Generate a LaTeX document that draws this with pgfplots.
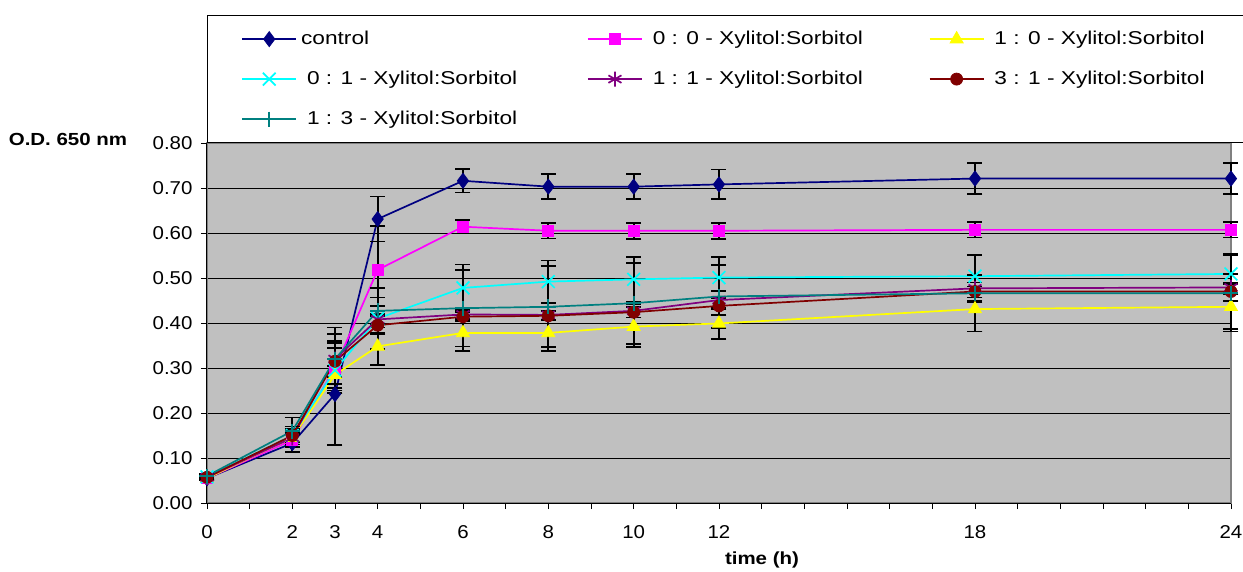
\documentclass[border=0pt]{standalone}
\usepackage{fontspec}
\setmainfont{Liberation Sans}[FakeStretch=1.1]
\newfontfamily\legfont{Liberation Sans}[FakeStretch=1.22]
\newfontfamily\labfont{Liberation Sans}[FakeStretch=1.17]
\usepackage{pgfplots}
\pgfplotsset{compat=1.18}
\definecolor{plotbg}{RGB}{192,192,192}
\definecolor{framec}{RGB}{128,128,128}
\definecolor{cnavy}{RGB}{0,0,128}
\definecolor{cmag}{RGB}{255,0,255}
\definecolor{cyel}{RGB}{255,255,0}
\definecolor{ccyan}{RGB}{0,255,255}
\definecolor{cpurp}{RGB}{128,0,128}
\definecolor{cmaroon}{RGB}{128,0,0}
\definecolor{cteal}{RGB}{0,128,128}
\newcommand{\tickfont}{\fontsize{18.6bp}{22bp}\selectfont}
\begin{document}
\begin{tikzpicture}
\useasboundingbox (-207bp,-69bp) rectangle (1036bp,503bp);
\begin{axis}[
  scale only axis, width=1024bp, height=360bp,
  xmin=0, xmax=24, ymin=0, ymax=0.8,
  clip=false,
  axis background/.style={fill=plotbg},
  axis line style={draw=framec, line width=1.2bp},
  tick pos=left, tick align=outside, major tick length=6bp,
  tick style={black, line width=0.8bp},
  xtick={0,...,24},
  xticklabels={0,,2,3,4,,6,,8,,10,,12,,,,,,18,,,,,,24},
  ytick={0,0.1,...,0.8},
  /pgf/number format/fixed, /pgf/number format/fixed zerofill,
  /pgf/number format/precision=2, /pgf/number format/assume math mode=true,
  xticklabel style={font=\tickfont, yshift=-13bp},
  yticklabel style={font=\tickfont, xshift=-5bp},
  ymajorgrids, major grid style={black, line width=0.8bp},
  every axis plot/.append style={line width=1.7bp},
  error bars/error bar style={black, line width=1.7bp, solid},
  error bars/error mark options={rotate=90, mark size=7.5bp, black, line width=1.7bp, solid},
  legend columns=3,
  legend cell align=left,
  legend image code/.code={\draw[mark repeat=2, mark phase=2] plot coordinates {(0bp,0bp) (27bp,0bp) (54bp,0bp)};},
  legend style={at={(axis description cs:0,1)}, anchor=south west,
    draw=black, line width=0.8bp, fill=white,
    inner xsep=34bp, inner ysep=14.5bp, row sep=22bp,
    font=\legfont\fontsize{18.6bp}{22bp}\selectfont,
    nodes={inner sep=0pt, text height=14bp, text depth=4bp},
    /tikz/every odd column/.append style={column sep=10bp}},
]
% control
\addplot[color=cnavy, mark=diamond*, mark size=7.5bp, mark options={fill=cnavy, draw=cnavy, line width=0.8bp},
  error bars/.cd, y dir=both, y explicit] coordinates {
 (0,0.055) +- (0,0.005)
 (2,0.133) +- (0,0.02)
 (3,0.242) +- (0,0.113)
 (4,0.631) +- (0,0.05)
 (6,0.716) +- (0,0.026)
 (8,0.703) +- (0,0.028)
 (10,0.703) +- (0,0.028)
 (12,0.708) +- (0,0.033)
 (18,0.721) +- (0,0.034)
 (24,0.721) +- (0,0.034)
};
\addlegendentry{\makebox[280bp][l]{\hspace*{-6bp}control}}
% 0:0
\addplot[color=cmag, mark=square*, mark size=5.5bp, mark options={fill=cmag, draw=cmag, line width=0.8bp},
  error bars/.cd, y dir=both, y explicit] coordinates {
 (0,0.055) +- (0,0.005)
 (2,0.140) +- (0,0.015)
 (3,0.300) +- (0,0.055)
 (4,0.518) +- (0,0.098)
 (6,0.614) +- (0,0.015)
 (8,0.605) +- (0,0.017)
 (10,0.605) +- (0,0.018)
 (12,0.605) +- (0,0.018)
 (18,0.607) +- (0,0.017)
 (24,0.607) +- (0,0.017)
};
\addlegendentry{\makebox[276bp][l]{0 : 0 - Xylitol:Sorbitol}}
% 1:0
\addplot[color=cyel, mark=triangle*, mark size=7.5bp, mark options={fill=cyel, draw=cyel, line width=0.8bp},
  error bars/.cd, y dir=both, y explicit] coordinates {
 (0,0.055) +- (0,0.004)
 (2,0.145) +- (0,0.01)
 (3,0.285) +- (0,0.02)
 (4,0.348) +- (0,0.042)
 (6,0.378) +- (0,0.04)
 (8,0.378) +- (0,0.04)
 (10,0.392) +- (0,0.045)
 (12,0.399) +- (0,0.035)
 (18,0.431) +- (0,0.05)
 (24,0.436) +- (0,0.05)
};
\addlegendentry{\makebox[217bp][l]{1 : 0 - Xylitol:Sorbitol}}
% 0:1
\addplot[color=ccyan, mark=x, mark size=9bp, mark options={draw=ccyan, line width=1.7bp},
  error bars/.cd, y dir=both, y explicit] coordinates {
 (0,0.058) +- (0,0.004)
 (2,0.150) +- (0,0.02)
 (3,0.295) +- (0,0.05)
 (4,0.410) +- (0,0.068)
 (6,0.478) +- (0,0.052)
 (8,0.492) +- (0,0.047)
 (10,0.497) +- (0,0.05)
 (12,0.501) +- (0,0.046)
 (18,0.504) +- (0,0.047)
 (24,0.509) +- (0,0.045)
};
\addlegendentry{\makebox[280bp][l]{0 : 1 - Xylitol:Sorbitol}}
% 1:1
\addplot[color=cpurp, mark=asterisk, mark size=7.5bp, mark options={draw=cpurp, line width=1.7bp},
  error bars/.cd, y dir=both, y explicit] coordinates {
 (0,0.057) +- (0,0.004)
 (2,0.145) +- (0,0.02)
 (3,0.320) +- (0,0.04)
 (4,0.408) +- (0,0.03)
 (6,0.419) +- (0,0.01)
 (8,0.418) +- (0,0.01)
 (10,0.427) +- (0,0.015)
 (12,0.451) +- (0,0.02)
 (18,0.477) +- (0,0.03)
 (24,0.479) +- (0,0.03)
};
\addlegendentry{\makebox[276bp][l]{1 : 1 - Xylitol:Sorbitol}}
% 3:1
\addplot[color=cmaroon, mark=*, mark size=6bp, mark options={fill=cmaroon, draw=cmaroon, line width=0.8bp},
  error bars/.cd, y dir=both, y explicit] coordinates {
 (0,0.057) +- (0,0.004)
 (2,0.150) +- (0,0.02)
 (3,0.315) +- (0,0.06)
 (4,0.395) +- (0,0.02)
 (6,0.414) +- (0,0.01)
 (8,0.416) +- (0,0.01)
 (10,0.424) +- (0,0.012)
 (12,0.438) +- (0,0.02)
 (18,0.470) +- (0,0.02)
 (24,0.470) +- (0,0.02)
};
\addlegendentry{\makebox[217bp][l]{3 : 1 - Xylitol:Sorbitol}}
% 1:3
\addplot[color=cteal, mark=+, mark size=7.5bp, mark options={draw=cteal, line width=1.7bp},
  error bars/.cd, y dir=both, y explicit] coordinates {
 (0,0.060) +- (0,0.004)
 (2,0.160) +- (0,0.03)
 (3,0.320) +- (0,0.07)
 (4,0.427) +- (0,0.03)
 (6,0.433) +- (0,0.085)
 (8,0.436) +- (0,0.09)
 (10,0.444) +- (0,0.09)
 (12,0.459) +- (0,0.07)
 (18,0.466) +- (0,0.085)
 (24,0.466) +- (0,0.085)
};
\addlegendentry{\makebox[280bp][l]{1 : 3 - Xylitol:Sorbitol}}
\draw[black, line width=1bp] (rel axis cs:0,1) -- (rel axis cs:0,0) -- (rel axis cs:1,0);
\node[font=\labfont\bfseries\fontsize{17.5bp}{20bp}\selectfont] at (axis description cs:0,1) [xshift=-139bp, yshift=4bp] {O.D. 650 nm};
\node[font=\labfont\bfseries\fontsize{17.5bp}{20bp}\selectfont] at (axis description cs:0.542,0) [yshift=-57bp] {time (h)};
\end{axis}
\end{tikzpicture}
\end{document}
